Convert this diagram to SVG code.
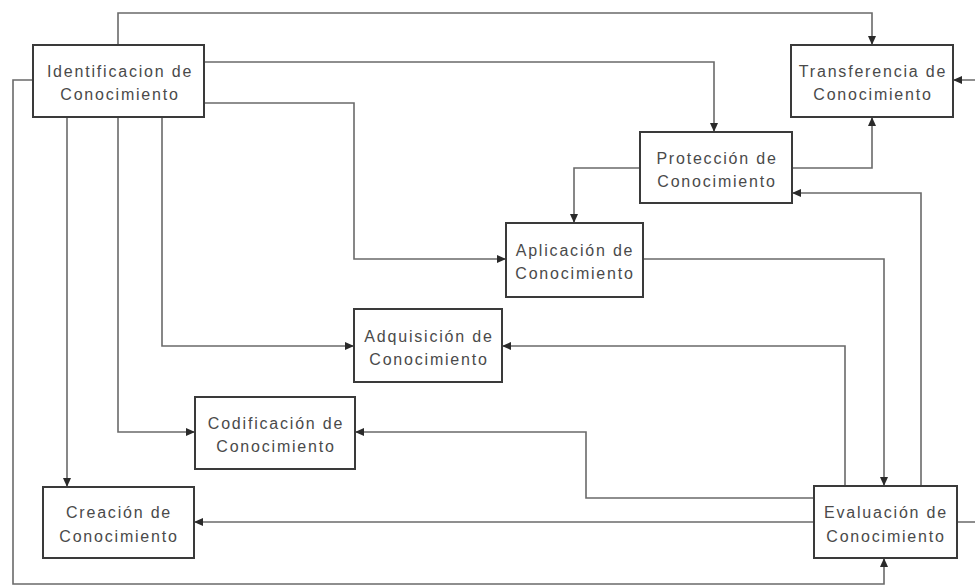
<svg xmlns="http://www.w3.org/2000/svg" width="975" height="586" viewBox="0 0 975 586">
<defs>
<style>
.box{fill:#fff;stroke:#3a3a3a;stroke-width:2}
.lbl{font-family:"Liberation Sans",Arial,sans-serif;font-size:16px;fill:#4a4a4a;text-anchor:middle;letter-spacing:1.8px}
.c{fill:none;stroke:#6a6a6a;stroke-width:1.6}
</style>
<marker id="ah" markerUnits="userSpaceOnUse" markerWidth="10" markerHeight="10" refX="9" refY="4" orient="auto">
<path d="M0,0 L9,4 L0,8 z" fill="#2a2a2a"/>
</marker>
</defs>
<rect width="975" height="586" fill="#fff"/>
<g id="connectors">
<path class="c" d="M118,45 V13 H872 V45" marker-end="url(#ah)"/>
<path class="c" d="M204,62 H714 V132" marker-end="url(#ah)"/>
<path class="c" d="M204,103 H354 V259 H506" marker-end="url(#ah)"/>
<path class="c" d="M162,117 V346 H354" marker-end="url(#ah)"/>
<path class="c" d="M118,117 V432 H195" marker-end="url(#ah)"/>
<path class="c" d="M67,117 V487" marker-end="url(#ah)"/>
<path class="c" d="M33,80 H13 V584 H884 V558" marker-end="url(#ah)"/>
<path class="c" d="M792,168 H872 V117" marker-end="url(#ah)"/>
<path class="c" d="M640,168 H574 V223" marker-end="url(#ah)"/>
<path class="c" d="M643,259 H884 V486" marker-end="url(#ah)"/>
<path class="c" d="M921,486 V193 H792" marker-end="url(#ah)"/>
<path class="c" d="M845,486 V346 H502" marker-end="url(#ah)"/>
<path class="c" d="M814,498 H586 V432 H355" marker-end="url(#ah)"/>
<path class="c" d="M814,522 H194" marker-end="url(#ah)"/>
<path class="c" d="M957,522 H990 V80 H953" marker-end="url(#ah)"/>
</g>
<g id="identificacion">
<rect class="box" x="33" y="45" width="171" height="72"/>
<text class="lbl" x="120" y="77">Identificacion de</text>
<text class="lbl" x="120" y="100">Conocimiento</text>
</g>
<g id="transferencia">
<rect class="box" x="791" y="45" width="162" height="72"/>
<text class="lbl" x="873" y="77">Transferencia de</text>
<text class="lbl" x="873" y="100">Conocimiento</text>
</g>
<g id="proteccion">
<rect class="box" x="640" y="132" width="152" height="71"/>
<text class="lbl" x="717" y="164">Protección de</text>
<text class="lbl" x="717" y="187">Conocimiento</text>
</g>
<g id="aplicacion">
<rect class="box" x="506" y="223" width="137" height="74"/>
<text class="lbl" x="575" y="256">Aplicación de</text>
<text class="lbl" x="575" y="279">Conocimiento</text>
</g>
<g id="adquisicion">
<rect class="box" x="354" y="309" width="148" height="73"/>
<text class="lbl" x="429" y="342">Adquisición de</text>
<text class="lbl" x="429" y="365">Conocimiento</text>
</g>
<g id="codificacion">
<rect class="box" x="195" y="397" width="160" height="72"/>
<text class="lbl" x="276" y="429">Codificación de</text>
<text class="lbl" x="276" y="452">Conocimiento</text>
</g>
<g id="creacion">
<rect class="box" x="43" y="487" width="151" height="71"/>
<text class="lbl" x="119" y="518">Creación de</text>
<text class="lbl" x="119" y="542">Conocimiento</text>
</g>
<g id="evaluacion">
<rect class="box" x="814" y="486" width="143" height="72"/>
<text class="lbl" x="886" y="518">Evaluación de</text>
<text class="lbl" x="886" y="542">Conocimiento</text>
</g>
</svg>
